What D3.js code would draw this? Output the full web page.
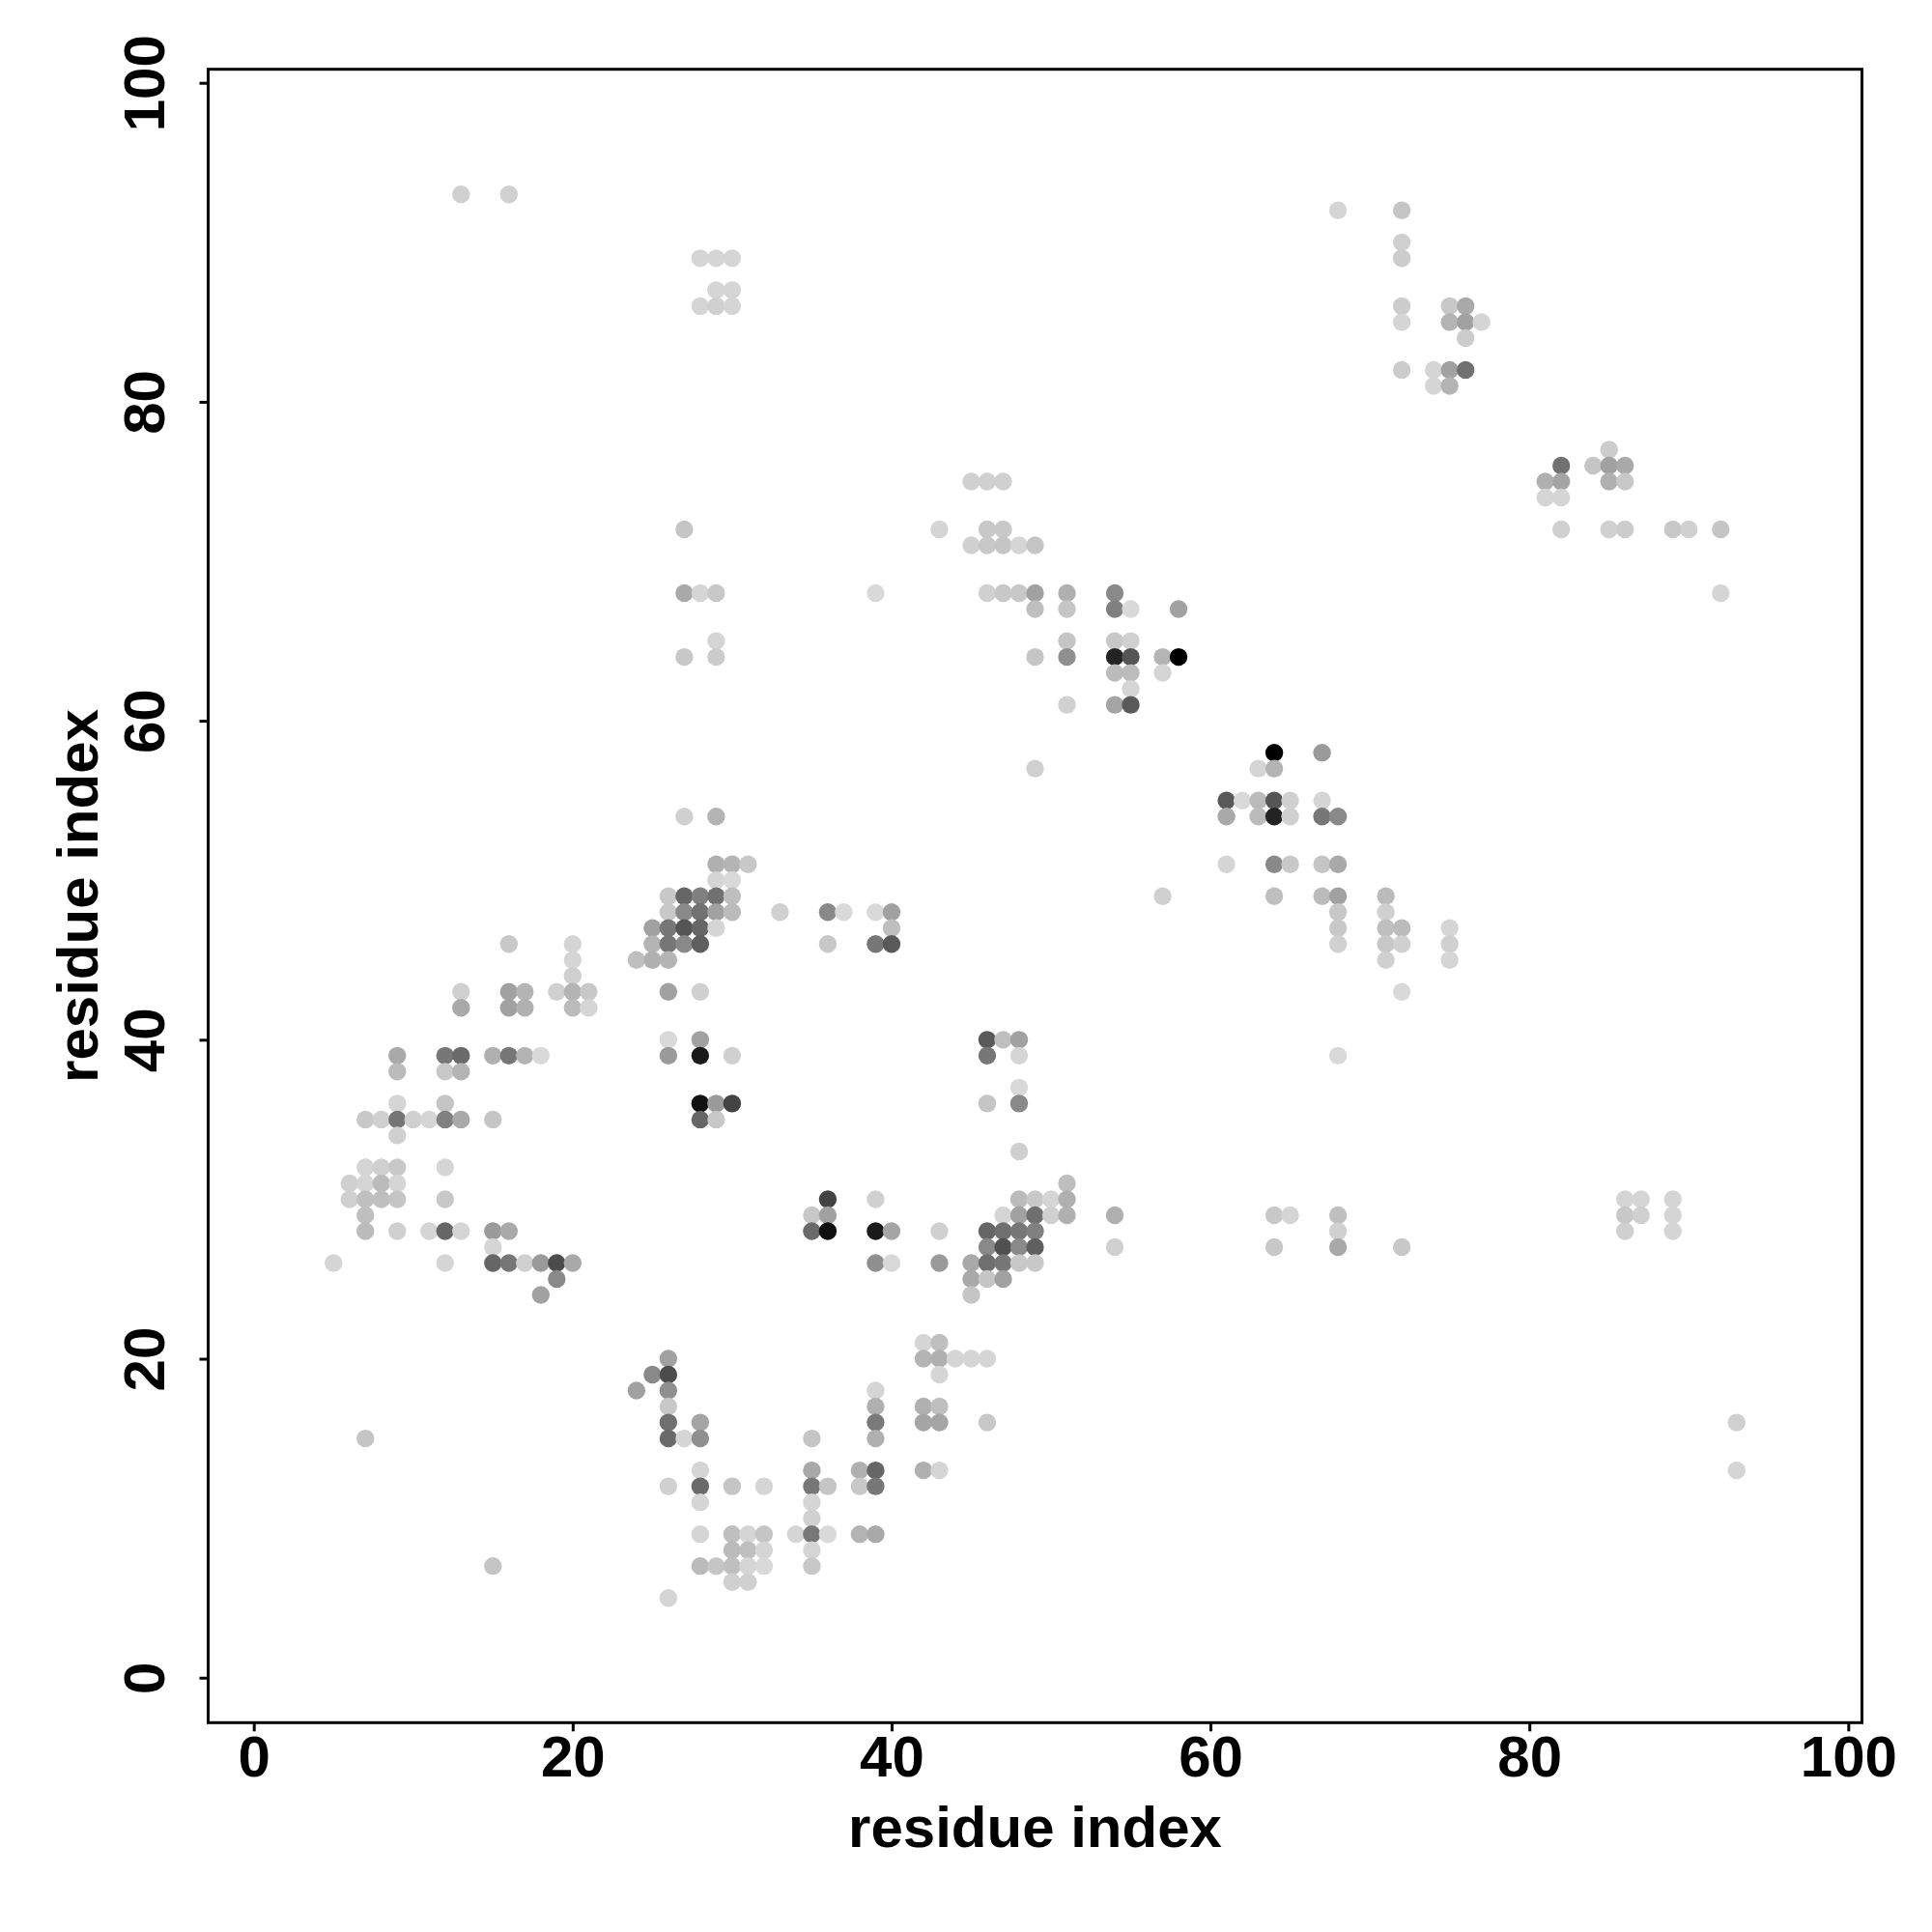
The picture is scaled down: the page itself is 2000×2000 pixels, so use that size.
<!DOCTYPE html>
<html>
<head>
<meta charset="utf-8">
<script src="https://cdn.jsdelivr.net/npm/d3@7"></script>
<style>
  html, body { margin: 0; padding: 0; background: #ffffff; }
  svg { display: block; }
  text { font-family: "Liberation Sans", Arial, Helvetica, sans-serif; font-weight: bold; }
</style>
</head>
<body>
<div id="chart"></div>
<script>
// ---- data: [residue i, residue j, contact score (0..1)] ----
const contacts = [
  [13,93,.04],[16,93,.04],
  [68,92,.02],[72,92,.09],
  [72,90,.04],
  [28,89,.02],[29,89,.02],[30,89,.02],[72,89,.06],
  [29,87,.02],[30,87,.02],
  [28,86,.02],[29,86,.04],[30,86,.02],[72,86,.06],[75,86,.08],[76,86,.22],
  [72,85,.02],[75,85,.17],[76,85,.26],[77,85,.02],
  [76,84,.06],
  [72,82,.06],[74,82,.02],[75,82,.26],[76,82,.48],
  [74,81,.02],[75,81,.17],
  [85,77,.06],
  [82,76,.48],[84,76,.09],[85,76,.26],[86,76,.22],
  [45,75,.04],[46,75,.04],[47,75,.04],[81,75,.19],[82,75,.24],[85,75,.19],[86,75,.08],
  [81,74,.02],[82,74,.02],
  [27,72,.09],[43,72,.02],[46,72,.08],[47,72,.08],[82,72,.04],[85,72,.04],[86,72,.06],[89,72,.08],[90,72,.04],[92,72,.09],
  [45,71,.04],[46,71,.08],[47,71,.09],[48,71,.02],[49,71,.09],
  [27,68,.22],[28,68,.02],[29,68,.08],[39,68,.00],[46,68,.04],[47,68,.08],[48,68,.08],[49,68,.26],[51,68,.19],[54,68,.37],[92,68,.02],
  [49,67,.12],[51,67,.09],[54,67,.41],[55,67,.00],[58,67,.26],
  [29,65,.02],[51,65,.09],[54,65,.08],[55,65,.04],
  [27,64,.08],[29,64,.06],[49,64,.09],[51,64,.34],[54,64,.84],[55,64,.61],[57,64,.17],[58,64,1],
  [54,63,.14],[55,63,.14],[57,63,.02],
  [55,62,.02],
  [51,61,.04],[54,61,.24],[55,61,.59],
  [64,58,1],[67,58,.29],
  [49,57,.04],[63,57,.02],[64,57,.17],
  [61,55,.59],[62,55,.00],[63,55,.14],[64,55,.61],[65,55,.04],[67,55,.02],
  [27,54,.04],[29,54,.17],[61,54,.22],[63,54,.14],[64,54,.84],[65,54,.04],[67,54,.45],[68,54,.37],
  [29,51,.19],[30,51,.17],[31,51,.08],[61,51,.02],[64,51,.37],[65,51,.08],[67,51,.09],[68,51,.22],
  [29,50,.02],[30,50,.00],
  [26,49,.08],[27,49,.53],[28,49,.41],[29,49,.48],[30,49,.12],[57,49,.04],[64,49,.12],[67,49,.14],[68,49,.26],[71,49,.14],
  [26,48,.08],[27,48,.37],[28,48,.48],[29,48,.26],[30,48,.14],[33,48,.04],[36,48,.37],[37,48,.00],[39,48,.00],[40,48,.26],[68,48,.08],[71,48,.04],
  [25,47,.26],[26,47,.45],[27,47,.61],[28,47,.53],[29,47,.02],[40,47,.12],[68,47,.08],[71,47,.12],[72,47,.14],[75,47,.02],
  [16,46,.08],[20,46,.02],[25,46,.17],[26,46,.45],[27,46,.37],[28,46,.56],[36,46,.08],[39,46,.45],[40,46,.59],[68,46,.04],[71,46,.08],[72,46,.04],[75,46,.04],
  [20,45,.02],[24,45,.12],[25,45,.19],[26,45,.17],[71,45,.04],[75,45,.02],
  [20,44,.04],
  [13,43,.04],[16,43,.26],[17,43,.17],[19,43,.04],[20,43,.17],[21,43,.08],[26,43,.26],[28,43,.04],[72,43,.00],
  [13,42,.22],[16,42,.26],[17,42,.19],[20,42,.14],[21,42,.02],
  [26,40,.00],[28,40,.26],[46,40,.59],[47,40,.12],[48,40,.26],
  [9,39,.22],[12,39,.45],[13,39,.51],[15,39,.19],[16,39,.45],[17,39,.17],[18,39,.00],[26,39,.29],[28,39,.88],[30,39,.04],[46,39,.45],[48,39,.02],[68,39,.00],
  [9,38,.14],[12,38,.08],[13,38,.17],
  [48,37,.00],
  [9,36,.02],[12,36,.09],[28,36,.92],[29,36,.29],[30,36,.69],[46,36,.09],[48,36,.37],
  [7,35,.08],[8,35,.04],[9,35,.46],[10,35,.04],[11,35,.02],[12,35,.41],[13,35,.22],[15,35,.09],[28,35,.53],[29,35,.08],
  [9,34,.04],
  [48,33,.04],
  [7,32,.02],[8,32,.04],[9,32,.08],[12,32,.02],
  [6,31,.04],[7,31,.02],[8,31,.14],[9,31,.02],[51,31,.12],
  [6,30,.04],[7,30,.12],[8,30,.12],[9,30,.09],[12,30,.08],[36,30,.69],[39,30,.04],[48,30,.14],[49,30,.08],[50,30,.02],[51,30,.19],[86,30,.02],[87,30,.02],[89,30,.02],
  [7,29,.12],[35,29,.08],[36,29,.26],[47,29,.02],[48,29,.26],[49,29,.49],[50,29,.04],[51,29,.19],[54,29,.19],[64,29,.08],[65,29,.02],[68,29,.12],[86,29,.08],[87,29,.04],[89,29,.02],
  [7,28,.14],[9,28,.04],[11,28,.02],[12,28,.53],[13,28,.02],[15,28,.29],[16,28,.22],[35,28,.51],[36,28,.92],[39,28,.88],[40,28,.24],[43,28,.04],[46,28,.53],[47,28,.49],[48,28,.45],[49,28,.41],[68,28,.04],[86,28,.04],[89,28,.02],
  [15,27,.02],[46,27,.37],[47,27,.63],[48,27,.37],[49,27,.56],[54,27,.04],[64,27,.08],[68,27,.22],[72,27,.08],
  [5,26,.02],[12,26,.02],[15,26,.53],[16,26,.45],[17,26,.04],[18,26,.29],[19,26,.65],[20,26,.22],[39,26,.34],[40,26,.00],[43,26,.29],[45,26,.22],[46,26,.49],[47,26,.45],[48,26,.08],[49,26,.08],
  [19,25,.37],[45,25,.22],[46,25,.09],[47,25,.26],
  [18,24,.26],[45,24,.09],
  [42,21,.02],[43,21,.12],
  [26,20,.26],[42,20,.17],[43,20,.19],[44,20,.02],[45,20,.02],[46,20,.02],
  [25,19,.37],[26,19,.65],[43,19,.02],
  [24,18,.26],[26,18,.34],[39,18,.02],
  [26,17,.08],[39,17,.19],[42,17,.19],[43,17,.12],
  [26,16,.49],[28,16,.24],[39,16,.44],[42,16,.24],[43,16,.24],[46,16,.08],[93,16,.04],
  [7,15,.09],[26,15,.51],[27,15,.02],[28,15,.34],[35,15,.09],[39,15,.19],
  [28,13,.02],[35,13,.22],[38,13,.19],[39,13,.53],[42,13,.19],[43,13,.02],[93,13,.02],
  [26,12,.04],[28,12,.51],[30,12,.09],[32,12,.02],[35,12,.45],[36,12,.09],[38,12,.08],[39,12,.45],
  [28,11,.02],[35,11,.02],
  [35,10,.04],
  [28,9,.02],[30,9,.12],[31,9,.02],[32,9,.09],[34,9,.02],[35,9,.45],[36,9,.00],[38,9,.17],[39,9,.22],
  [30,8,.14],[31,8,.12],[32,8,.02],[35,8,.02],
  [15,7,.09],[28,7,.14],[29,7,.09],[30,7,.12],[31,7,.02],[32,7,.00],[35,7,.08],
  [30,6,.04],[31,6,.04],
  [26,5,.02]
];
const xTicks = [0, 20, 40, 60, 80, 100];
const yTicks = [0, 20, 40, 60, 80, 100];
const xTitle = "residue index";
const yTitle = "residue index";

// ---- layout ----
const W = 2000, H = 2000;
const box = { left: 215.5, right: 1927.5, top: 71.7, bottom: 1783.3 };

const svg = d3.select("#chart").append("svg")
  .attr("width", W).attr("height", H)
  .attr("viewBox", `0 0 ${W} ${H}`);

svg.append("rect").attr("width", W).attr("height", H).attr("fill", "#ffffff");

const x = d3.scaleLinear().domain([-2.86, 100.86]).range([box.left, box.right]);
const y = d3.scaleLinear().domain([-2.82, 100.85]).range([box.bottom, box.top]);
const shade = d3.scaleLinear().domain([0, 1]).range(["#d9d9d9", "#000000"]).clamp(true);

// points
svg.append("g")
  .selectAll("circle")
  .data(contacts)
  .join("circle")
  .attr("cx", d => x(d[0]))
  .attr("cy", d => y(d[1]))
  .attr("r", 9.2)
  .attr("fill", d => shade(d[2]));

// box
svg.append("rect")
  .attr("x", box.left).attr("y", box.top)
  .attr("width", box.right - box.left).attr("height", box.bottom - box.top)
  .attr("fill", "none").attr("stroke", "#000").attr("stroke-width", 3);

// x axis
const gx = svg.append("g")
  .attr("transform", `translate(0,${box.bottom})`)
  .call(d3.axisBottom(x).tickValues(xTicks).tickFormat(d3.format("d"))
    .tickSizeInner(9).tickSizeOuter(0).tickPadding(4));
gx.select(".domain").remove();
gx.selectAll(".tick line").attr("stroke", "#000").attr("stroke-width", 3);
gx.selectAll(".tick text").attr("font-size", 60).attr("fill", "#000")
  .attr("font-family", "'Liberation Sans', Arial, sans-serif").attr("font-weight", "bold");

// y axis
const gy = svg.append("g")
  .attr("transform", `translate(${box.left},0)`)
  .call(d3.axisLeft(y).tickValues(yTicks).tickFormat(d3.format("d"))
    .tickSizeInner(9).tickSizeOuter(0));
gy.select(".domain").remove();
gy.selectAll(".tick line").attr("stroke", "#000").attr("stroke-width", 3);
gy.selectAll(".tick text")
  .attr("font-size", 60).attr("fill", "#000")
  .attr("font-family", "'Liberation Sans', Arial, sans-serif").attr("font-weight", "bold")
  .attr("x", null).attr("dy", null)
  .attr("text-anchor", "middle")
  .attr("transform", "translate(-45.5,0) rotate(-90)");

// titles
svg.append("text")
  .attr("x", (box.left + box.right) / 2).attr("y", 1912)
  .attr("text-anchor", "middle").attr("font-size", 60).attr("fill", "#000")
  .text(xTitle);

svg.append("text")
  .attr("transform", `translate(101,${(box.top + box.bottom) / 2}) rotate(-90)`)
  .attr("text-anchor", "middle").attr("font-size", 60).attr("fill", "#000")
  .text(yTitle);
</script>
</body>
</html>
